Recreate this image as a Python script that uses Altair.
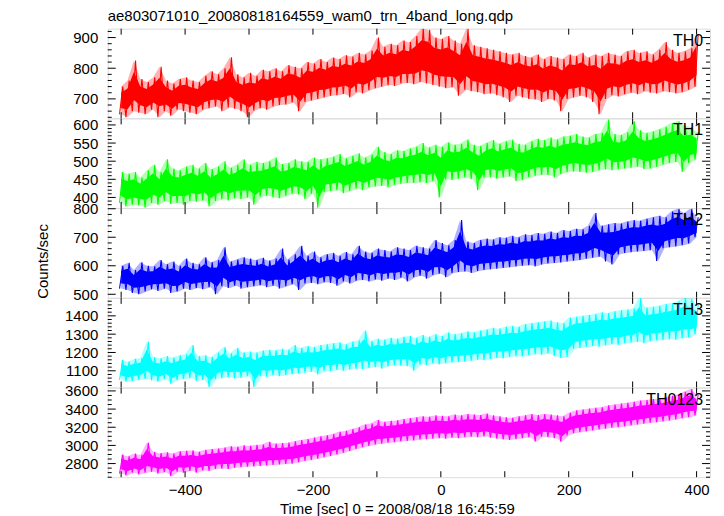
import altair as alt
import pandas as pd
import numpy as np

FONT = "Liberation Sans"
TITLE = "ae803071010_20080818164559_wam0_trn_4band_long.qdp"
XTITLE = "Time [sec] 0 = 2008/08/18 16:45:59"
YTITLE = "Counts/sec"

# time bins (s), 10 s apart
TIME = list(range(-500, 401, 10))
X_DOMAIN = [-521, 421]
X_LABELS = [-400, -200, 0, 200, 400]
X_TICKS = [-500, -400, -300, -200, -100, 0, 100, 200, 300, 400]

BANDS = ["TH0", "TH1", "TH2", "TH3", "TH0123"]
COLORS = ["#ff0000", "#00ff00", "#0000ff", "#00ffff", "#ff00ff"]
Y_DOMAINS = [[637, 929], [371, 618], [488, 802], [1009, 1498], [2650, 3636]]
Y_LABELS = [[700, 800, 900], [400, 450, 500, 550, 600], [500, 600, 700, 800],
            [1100, 1200, 1300, 1400], [2800, 3000, 3200, 3400, 3600]]
Y_MINOR_STEP = [20, 10, 20, 20, 50]

# per-bin low / high extremes of the count rate
TH0_HI = [740, 760, 825, 765, 755, 770, 805, 760, 750, 765,
          770, 760, 755, 775, 790, 780, 800, 836, 780, 770,
          785, 775, 795, 790, 800, 790, 810, 805, 800, 820,
          815, 830, 820, 835, 830, 842, 838, 850, 845, 858,
          900, 870, 880, 875, 890, 885, 905, 930, 925, 900,
          895, 905, 890, 880, 930, 875, 870, 865, 860, 855,
          850, 845, 850, 840, 835, 845, 830, 840, 835, 830,
          845, 840, 850, 835, 845, 840, 850, 845, 840, 855,
          860, 850, 855, 845, 860, 885, 860, 850, 855, 865,
          912]
TH0_LO = [650, 640, 660, 655, 650, 665, 640, 660, 645, 665,
          660, 655, 650, 665, 670, 675, 660, 672, 668, 660,
          640, 662, 670, 665, 675, 680, 682, 688, 660, 690,
          695, 700, 705, 710, 712, 716, 705, 722, 718, 728,
          735, 740, 745, 742, 750, 752, 748, 755, 750, 745,
          740, 735, 738, 710, 730, 725, 722, 715, 718, 712,
          705, 690, 710, 705, 700, 698, 690, 700, 695, 660,
          700, 705, 710, 705, 690, 650, 700, 712, 708, 715,
          720, 715, 725, 720, 718, 725, 722, 718, 722, 730,
          740]

TH1_HI = [470, 465, 470, 455, 475, 490, 470, 505, 480, 475,
          485, 490, 480, 495, 478, 485, 500, 482, 490, 505,
          490, 498, 495, 500, 510, 492, 495, 505, 500, 498,
          510, 505, 508, 512, 520, 508, 515, 522, 510, 518,
          540, 525, 520, 530, 528, 535, 540, 550, 538, 545,
          540, 552, 545, 548, 560, 545, 542, 550, 558, 548,
          555, 560, 548, 545, 555, 562, 558, 565, 560, 568,
          570, 575, 568, 565, 575, 578, 615, 575, 572, 580,
          610, 585, 578, 582, 588, 595, 605, 610, 598, 595,
          580]
TH1_LO = [385, 375, 380, 378, 372, 385, 380, 390, 382, 385,
          380, 390, 388, 392, 375, 390, 395, 392, 398, 395,
          400, 380, 402, 405, 400, 398, 405, 410, 408, 395,
          410, 372, 415, 418, 420, 412, 418, 425, 420, 428,
          430, 432, 428, 435, 438, 440, 440, 442, 440, 445,
          400, 450, 448, 452, 455, 450, 420, 455, 456, 452,
          455, 458, 445, 448, 455, 460, 462, 462, 455, 465,
          470, 472, 470, 468, 470, 475, 478, 475, 478, 480,
          482, 485, 478, 480, 485, 490, 495, 498, 470, 495,
          505]

TH2_HI = [600, 610, 585, 612, 600, 598, 620, 605, 615, 600,
          625, 610, 605, 630, 612, 620, 665, 615, 622, 630,
          625, 620, 628, 618, 625, 660, 622, 640, 670, 635,
          650, 630, 640, 645, 635, 648, 640, 670, 650, 645,
          660, 655, 650, 665, 660, 655, 670, 665, 660, 690,
          680, 672, 690, 760, 685, 680, 690, 695, 692, 700,
          698, 705, 700, 710, 708, 715, 712, 720, 715, 725,
          722, 730, 728, 740, 785, 740, 745, 750, 748, 755,
          760, 758, 765, 770, 775, 770, 790, 800, 785, 800,
          770]
TH2_LO = [520, 515, 505, 500, 510, 518, 512, 520, 505, 510,
          520, 515, 522, 518, 525, 500, 528, 522, 530, 520,
          525, 528, 532, 525, 530, 520, 528, 535, 515, 538,
          540, 535, 542, 540, 530, 545, 538, 548, 550, 545,
          552, 548, 555, 550, 558, 545, 560, 565, 555, 568,
          572, 560, 575, 578, 580, 575, 582, 585, 588, 590,
          592, 595, 598, 600, 602, 598, 605, 608, 610, 612,
          615, 618, 620, 625, 628, 632, 615, 605, 640, 645,
          648, 650, 652, 655, 617, 662, 665, 668, 672, 678,
          700]

TH3_HI = [1160, 1150, 1165, 1170, 1260, 1175, 1168, 1180, 1172, 1185,
          1190, 1240, 1180, 1185, 1175, 1200, 1230, 1195, 1225, 1200,
          1205, 1200, 1210, 1215, 1212, 1220, 1215, 1240, 1225, 1235,
          1230, 1240, 1245, 1250, 1255, 1245, 1260, 1265, 1320, 1262,
          1275, 1270, 1280, 1275, 1285, 1290, 1280, 1295, 1285, 1300,
          1290, 1310, 1300, 1305, 1315, 1310, 1320, 1325, 1335, 1330,
          1340, 1345, 1340, 1355, 1360, 1365, 1370, 1375, 1365, 1360,
          1390, 1395, 1400, 1405, 1410, 1420, 1415, 1425, 1430, 1435,
          1440, 1500, 1445, 1450, 1455, 1465, 1470, 1480, 1500, 1495,
          1460]
TH3_LO = [1050, 1040, 1045, 1050, 1055, 1048, 1040, 1055, 1030, 1050,
          1055, 1060, 1045, 1050, 1010, 1055, 1060, 1065, 1058, 1062,
          1070, 1010, 1072, 1068, 1075, 1070, 1078, 1082, 1085, 1090,
          1095, 1080, 1100, 1098, 1105, 1100, 1108, 1112, 1110, 1115,
          1120, 1112, 1125, 1130, 1128, 1125, 1100, 1135, 1130, 1140,
          1135, 1142, 1145, 1148, 1150, 1155, 1160, 1158, 1165, 1170,
          1168, 1175, 1180, 1178, 1185, 1190, 1188, 1195, 1180, 1170,
          1175, 1220, 1225, 1230, 1235, 1232, 1240, 1245, 1242, 1250,
          1255, 1258, 1250, 1262, 1265, 1268, 1272, 1270, 1278, 1280,
          1300]

TH0123_HI = [2900, 2880, 2910, 2895, 3030, 2930, 2915, 2925, 2910, 2935,
             2940, 2945, 2930, 2950, 2960, 2965, 2975, 2990, 2985, 3000,
             2995, 3005, 3010, 3040, 3020, 3025, 3030, 3045, 3060, 3070,
             3085, 3100, 3110, 3125, 3150, 3160, 3180, 3200, 3230, 3240,
             3280, 3260, 3270, 3275, 3290, 3300, 3310, 3320, 3315, 3330,
             3325, 3320, 3340, 3330, 3345, 3340, 3335, 3350, 3330, 3320,
             3310, 3305, 3320, 3330, 3345, 3335, 3345, 3340, 3330, 3320,
             3360, 3385, 3395, 3405, 3415, 3420, 3440, 3450, 3460, 3470,
             3480, 3495, 3500, 3510, 3515, 3530, 3545, 3560, 3590, 3620,
             3560]
TH0123_LO = [2690, 2670, 2700, 2680, 2700, 2710, 2690, 2705, 2660, 2710,
             2700, 2720, 2700, 2725, 2720, 2740, 2745, 2740, 2755, 2760,
             2765, 2770, 2775, 2780, 2785, 2790, 2795, 2800, 2815, 2830,
             2840, 2855, 2870, 2885, 2900, 2920, 2940, 2960, 2980, 2995,
             3010, 3020, 3030, 3035, 3045, 3050, 3055, 3065, 3070, 3075,
             3080, 3075, 3085, 3080, 3090, 3095, 3090, 3100, 3085, 3075,
             3065, 3060, 3070, 3080, 3090, 3040, 3095, 3090, 3080, 3040,
             3110, 3135, 3145, 3155, 3165, 3175, 3185, 3195, 3200, 3210,
             3220, 3230, 3240, 3250, 3255, 3265, 3275, 3285, 3300, 3310,
             3330]

SERIES = [(TH0_LO, TH0_HI), (TH1_LO, TH1_HI), (TH2_LO, TH2_HI),
          (TH3_LO, TH3_HI), (TH0123_LO, TH0123_HI)]

W = 604
H = 89.8
CORE = 0.22  # fraction of the bin range left out of the dense core on each side


def panel(i):
    lo, hi = SERIES[i]
    color = COLORS[i]
    dom = Y_DOMAINS[i]
    bottom = (i == len(SERIES) - 1)

    if bottom:
        xaxis = alt.Axis(values=X_LABELS, ticks=False, domain=False, grid=False,
                         labelFont=FONT, labelFontSize=15, labelColor="black",
                         labelPadding=5, labelFlush=False, format="d",
                         title=XTITLE, titleFont=FONT, titleFontSize=15,
                         titleFontWeight="normal", titleColor="black",
                         titleX=290, titleY=31, titleAlign="center",
                         titleBaseline="middle")
    else:
        xaxis = None

    ykw = dict(values=Y_LABELS[i], ticks=False, domain=False, grid=False,
               labelFont=FONT, labelFontSize=15, labelColor="black",
               labelPadding=10, labelFlush=False, labelOverlap=False, format="d")
    if i == 2:
        ykw.update(title=YTITLE, titleFont=FONT, titleFontSize=15,
                   titleFontWeight="normal", titleColor="black",
                   titleX=-65, titleY=53, titleAngle=270,
                   titleAlign="center", titleBaseline="middle")
    else:
        ykw.update(title="")
    yaxis = alt.Axis(**ykw)

    def X(f):
        return alt.X(f"{f}:Q", scale=alt.Scale(domain=X_DOMAIN, nice=False, zero=False), axis=xaxis)

    def Y(f):
        return alt.Y(f"{f}:Q", scale=alt.Scale(domain=dom, nice=False, zero=False), axis=yaxis)

    band = pd.DataFrame({"t": TIME, "lo": lo, "hi": hi})
    band["c_lo"] = band["lo"] + CORE * (band["hi"] - band["lo"])
    band["c_hi"] = band["hi"] - CORE * (band["hi"] - band["lo"])

    rows = []
    for t, l, h in zip(TIME, lo, hi):
        rows.append({"t": t - 2.5, "y": l})
        rows.append({"t": t + 2.5, "y": h})
    zig = pd.DataFrame(rows)

    halo = alt.Chart(band).mark_area(color=color, opacity=0.3, clip=True).encode(
        x=X("t"), y=Y("lo"), y2=alt.Y2("hi:Q"))
    core = alt.Chart(band).mark_area(color=color, opacity=1, clip=True).encode(
        x=X("t"), y=Y("c_lo"), y2=alt.Y2("c_hi:Q"))
    line = alt.Chart(zig).mark_line(color=color, strokeWidth=1.1, clip=True).encode(
        x=X("t"), y=Y("y"))

    majors = [v for v in Y_LABELS[i] if dom[0] <= v <= dom[1]]
    step = Y_MINOR_STEP[i]
    minors = [float(v) for v in np.arange(np.ceil(dom[0] / step) * step, dom[1], step)
              if v not in majors]
    dmaj = pd.DataFrame({"y": majors})
    dmin = pd.DataFrame({"y": minors})
    dxt = pd.DataFrame({"t": X_TICKS})

    rk = dict(color="black", strokeWidth=1)
    ticks = [
        alt.Chart(dmaj).mark_rule(**rk).encode(y=Y("y"), x=alt.value(0), x2=alt.value(8)),
        alt.Chart(dmin).mark_rule(**rk).encode(y=Y("y"), x=alt.value(0), x2=alt.value(4)),
        alt.Chart(dmaj).mark_rule(**rk).encode(y=Y("y"), x=alt.value(W), x2=alt.value(W - 8)),
        alt.Chart(dmin).mark_rule(**rk).encode(y=Y("y"), x=alt.value(W), x2=alt.value(W - 4)),
        alt.Chart(dxt).mark_rule(**rk).encode(x=X("t"), y=alt.value(0), y2=alt.value(6)),
        alt.Chart(dxt).mark_rule(**rk).encode(x=X("t"), y=alt.value(H), y2=alt.value(H - 6)),
    ]

    label = alt.Chart(pd.DataFrame({"label": [BANDS[i]]})).mark_text(
        align="right", baseline="middle", font=FONT, fontSize=16, color="black"
    ).encode(text="label:N", x=alt.value(W - 7), y=alt.value(12))

    return alt.layer(halo, core, line, *ticks, label).properties(width=W, height=H)


chart = alt.vconcat(*[panel(i) for i in range(len(SERIES))], spacing=0, bounds="flush").properties(
    title=alt.TitleParams(TITLE, anchor="start", frame="group", font=FONT, fontSize=15,
                          fontWeight="normal", color="black", offset=4),
    padding={"left": 27, "right": 5, "top": 0, "bottom": 0},
).configure_view(stroke="black", strokeWidth=1).configure(font=FONT)

chart.save("out.html", embed_options={"renderer": "svg", "actions": False})
